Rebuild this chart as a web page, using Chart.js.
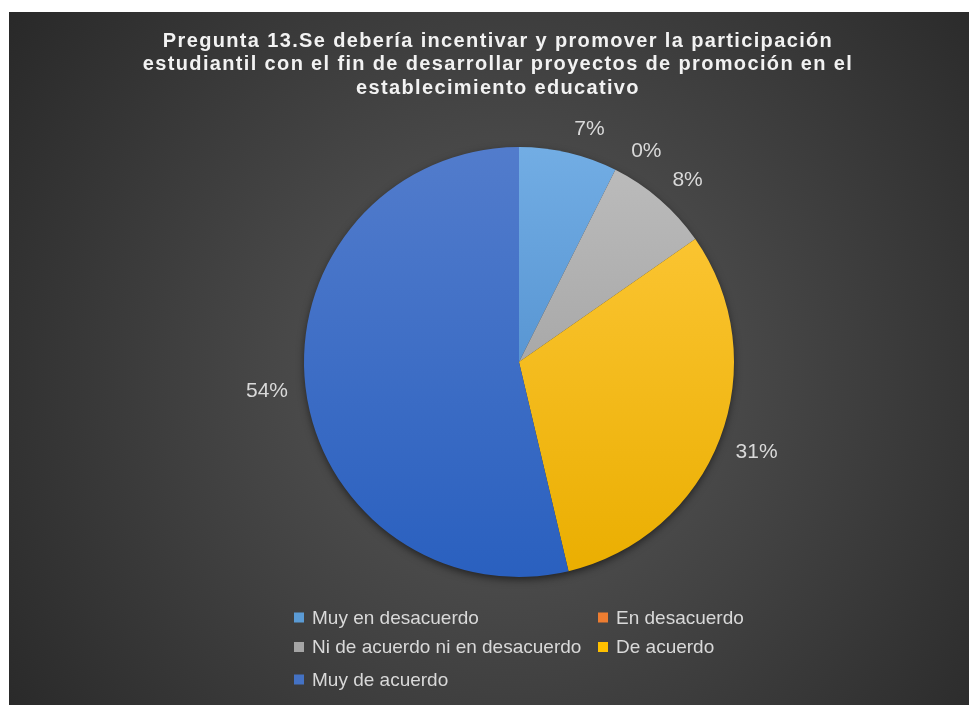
<!DOCTYPE html>
<html lang="es">
<head>
    <meta charset="UTF-8">
    <title>Pregunta 13</title>
    <script src="https://cdn.jsdelivr.net/npm/chart.js"></script>
    <style>
        body { margin: 0; background: #fff; }
        #wrap { position: absolute; left: 9px; top: 12px; width: 960px; height: 693px; }
    </style>
</head>
<body>
    <div id="wrap"><canvas id="pieChart"></canvas></div>

    <script>
        // datos
        const categories = ['Muy en desacuerdo', 'En desacuerdo', 'Ni de acuerdo ni en desacuerdo', 'De acuerdo', 'Muy de acuerdo'];
        const shares = [7.4, 0, 7.9, 31.0, 53.7];
        const titleLines = [
            'Pregunta 13.Se debería incentivar y promover la participación',
            'estudiantil con el fin de desarrollar proyectos de promoción en el',
            'establecimiento educativo'
        ];

        const baseColors = ['#5b9bd5', '#ed7d31', '#a5a5a5', '#ffc000', '#4472c4'];
        const topColors = ['#72ade4', '#f38d48', '#bdbdbd', '#ffca3e', '#527ccc'];
        const bottomColors = ['#3f7fc2', '#d9661c', '#949494', '#eaae00', '#2a60bf'];
        const labelNudge = [3.5, 4.5, 2, 0, 0]; // grados

        function sliceFill(ctx) {
            const area = ctx.chart.chartArea;
            const i = ctx.dataIndex;
            if (!area) return baseColors[i];
            const g = ctx.chart.ctx.createLinearGradient(0, area.top, 0, area.bottom);
            g.addColorStop(0, topColors[i]);
            g.addColorStop(1, bottomColors[i]);
            return g;
        }

        const decor = {
            id: 'decor',
            beforeDraw(chart) {
                const c = chart.ctx;
                const w = chart.width, h = chart.height;
                const g = c.createRadialGradient(500, 360, 0, 500, 360, 650);
                g.addColorStop(0, '#5a5a5a');
                g.addColorStop(1, '#262626');
                c.save();
                c.fillStyle = g;
                c.fillRect(0, 0, w, h);

                // titulo
                c.fillStyle = '#f2f2f2';
                c.font = 'bold 20px "Liberation Sans", Arial, sans-serif';
                c.letterSpacing = '1.35px';
                c.textAlign = 'center';
                c.textBaseline = 'alphabetic';
                titleLines.forEach((t, i) => c.fillText(t, 489, 35 + i * 23.3));
                c.restore();
            },
            beforeDatasetsDraw(chart) {
                const arc = chart.getDatasetMeta(0).data[0];
                const c = chart.ctx;
                c.save();
                c.shadowColor = 'rgba(0,0,0,0.6)';
                c.shadowBlur = 9;
                c.shadowOffsetY = 3;
                c.fillStyle = '#333';
                c.beginPath();
                c.arc(arc.x, arc.y, arc.outerRadius - 1, 0, Math.PI * 2);
                c.fill();
                c.restore();
            },
            afterDraw(chart) {
                const c = chart.ctx;
                const meta = chart.getDatasetMeta(0);
                c.save();
                // etiquetas de porcentaje
                c.font = '21px "Liberation Sans", Arial, sans-serif';
                c.fillStyle = '#d9d9d9';
                c.textAlign = 'center';
                c.textBaseline = 'middle';
                meta.data.forEach((a, i) => {
                    const txt = Math.round(shares[i]) + '%';
                    const mid = (a.startAngle + a.endAngle) / 2 + labelNudge[i] * Math.PI / 180;
                    const ux = Math.cos(mid), uy = Math.sin(mid);
                    const tw = c.measureText(txt).width, th = 15;
                    const d = a.outerRadius + 17 + Math.abs(ux) * tw / 2 + Math.abs(uy) * th / 2;
                    c.fillText(txt, a.x + ux * d, a.y + uy * d);
                });

                // leyenda en dos columnas
                const colX = [285, 589];
                const rowY = [605.5, 635, 667.5];
                c.font = '19px "Liberation Sans", Arial, sans-serif';
                c.textAlign = 'left';
                categories.forEach((name, i) => {
                    const x = colX[i % 2], y = rowY[Math.floor(i / 2)];
                    c.fillStyle = baseColors[i];
                    c.fillRect(x, y - 5, 10, 10);
                    c.fillStyle = '#d9d9d9';
                    c.fillText(name, x + 18, y + 1);
                });
                c.restore();
            }
        };

        new Chart(document.getElementById('pieChart'), {
            type: 'pie',
            data: {
                labels: categories,
                datasets: [{
                    data: shares,
                    backgroundColor: sliceFill,
                    borderWidth: 0
                }]
            },
            options: {
                responsive: true,
                maintainAspectRatio: false,
                animation: false,
                events: [],
                layout: { padding: { left: 295, right: 235, top: 135, bottom: 128 } },
                plugins: {
                    legend: { display: false },
                    title: { display: false },
                    tooltip: { enabled: false }
                }
            },
            plugins: [decor]
        });
    </script>
</body>
</html>
